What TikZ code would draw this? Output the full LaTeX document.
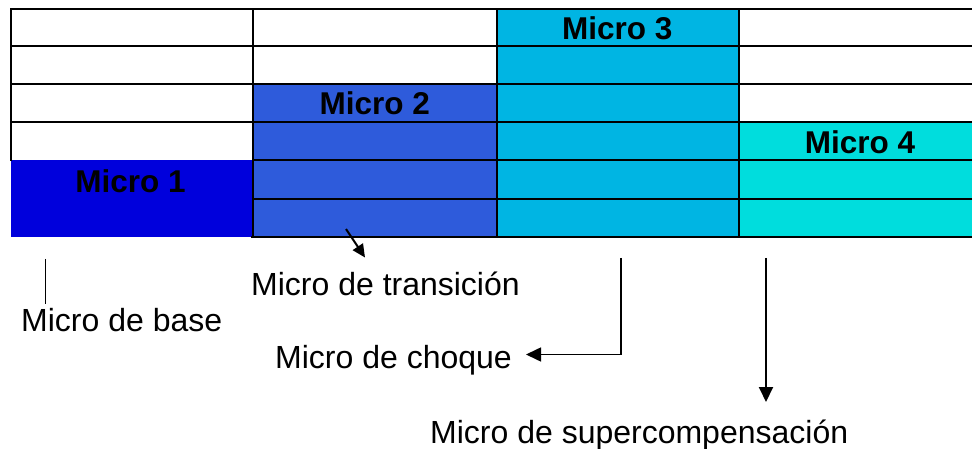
\documentclass[tikz,border=0pt]{standalone}
\usepackage{fontspec}
\setmainfont{Liberation Sans}
\usetikzlibrary{arrows.meta}
\definecolor{mOne}{RGB}{0,0,220}
\definecolor{mTwo}{RGB}{46,91,219}
\definecolor{mThree}{RGB}{0,181,227}
\definecolor{mFour}{RGB}{0,221,221}
\begin{document}
\begin{tikzpicture}[x=1pt,y=-1pt,
  grid/.style={line width=2pt, line cap=rect},
  title/.style={font=\fontsize{31.5}{36}\selectfont\bfseries, inner sep=0pt, anchor=base},
  lab/.style={font=\fontsize{32}{38}\selectfont, inner sep=0pt, anchor=base west},
  arr/.style={line width=1.6pt, -{Triangle[length=15pt,width=14pt]}},
  smallarr/.style={line width=2pt, -{Triangle[length=13pt,width=12pt]}},
  thinline/.style={line width=1pt}]
\useasboundingbox (0,0) rectangle (972,449);
\fill[white] (0,0) rectangle (972,449);
% coloured blocks
\fill[mOne] (11,160) rectangle (253,237);
\fill[mTwo] (253,84) rectangle (497,237);
\fill[mThree] (497,9) rectangle (739,237);
\fill[mFour] (739,122) rectangle (972,237);
% grid
\draw[grid] (11,9) -- (972,9);
\draw[grid] (11,46) -- (972,46);
\draw[grid] (11,84) -- (972,84);
\draw[grid] (11,122) -- (972,122);
\draw[grid] (253,160) -- (972,160);
\draw[grid] (253,199) -- (972,199);
\draw[grid] (252,237) -- (972,237);
\draw[grid] (11,9) -- (11,160);
\draw[grid] (253,9) -- (253,237);
\draw[grid] (497,9) -- (497,237);
\draw[grid] (739,9) -- (739,237);
% titles
\node[title] (t1) at (130.5,192.3) {Micro 1};
\node[title] (t2) at (374.7,115) {Micro 2};
\node[title] (t3) at (617.2,39.3) {Micro 3};
\node[title] (t4) at (860,153.3) {Micro 4};
% labels
\node[lab] (ltrans) at (251,295) {Micro de transición};
\node[lab] (lbase) at (21,331.7) {Micro de base};
\node[lab] (lchoque) at (275,368.3) {Micro de choque};
\node[lab] (lsuper) at (430,443.3) {Micro de supercompensación};
% connector end points
\coordinate (bTop) at (45,259);
\coordinate (bBot) at (45,304);
\coordinate (trStart) at (346,229);
\coordinate (trTip) at (365,257.5);
\coordinate (chStart) at (621,258);
\coordinate (chTip) at (526,354.5);
\coordinate (suStart) at (766,258);
\coordinate (suTip) at (766,402);
% connectors
\draw[thinline] (bTop) -- (bBot);
\draw[smallarr] (trStart) -- (trTip);
\draw[arr] (chStart) |- (chTip);
\draw[arr, line width=2pt] (suStart) -- (suTip);
\end{tikzpicture}
\end{document}
